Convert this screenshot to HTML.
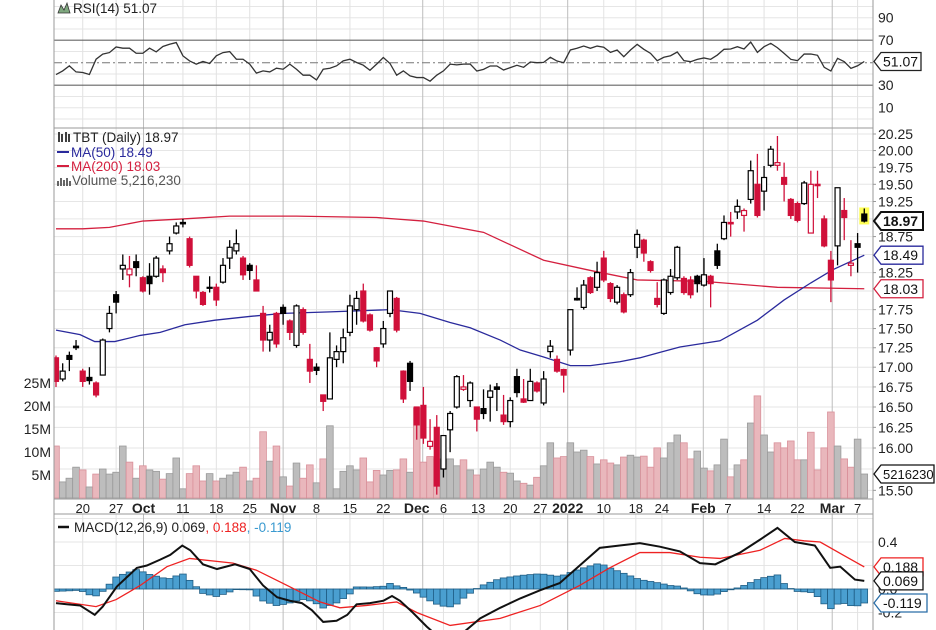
<!DOCTYPE html>
<html><head><meta charset="utf-8">
<style>
body{margin:0;background:#fff}
svg{display:block;font-family:"Liberation Sans",sans-serif}
</style></head><body>
<svg id="c" width="936" height="630" viewBox="0 0 936 630"></svg>
<script>
// ---- Price data (OHLC per trading day) ----
const opens=[17.12,16.85,17.15,17.27,16.95,16.87,16.8,16.9,17.5,17.95,
18.3,18.22,18.4,18.18,18.2,18.2,18.3,18.55,18.8,18.95,
18.72,18.2,17.98,18.05,18.05,18.12,18.45,18.55,18.45,18.35,
18.15,17.7,17.35,17.7,17.78,17.6,17.28,17.75,17.1,17.0,
16.65,16.6,17.1,17.2,17.45,17.75,18.0,17.68,17.25,17.3,
17.7,17.9,16.95,17.05,16.5,16.52,16.02,16.25,15.75,16.22,
16.5,16.72,16.58,16.5,16.48,16.62,16.75,16.4,16.32,16.88,
16.6,16.58,16.8,16.55,17.2,17.1,16.97,17.22,17.9,17.78,
18.18,18.05,18.45,18.1,17.85,17.95,17.95,18.6,18.7,18.4,
17.9,17.7,17.98,18.18,18.17,18.15,18.2,18.08,18.2,18.55,
18.72,18.95,19.1,19.05,19.28,19.5,19.4,19.78,19.78,19.6,
19.28,19.22,19.22,18.8,19.5,19.0,18.42,18.62,19.12,18.35,18.65,19.07];
const highs=[17.15,17.05,17.2,17.35,16.98,17.0,16.82,17.37,17.8,18.0,
18.5,18.48,18.5,18.2,18.38,18.48,18.35,18.75,18.95,19.0,
18.75,18.2,18.0,18.2,18.1,18.45,18.7,18.85,18.48,18.38,
18.35,17.8,17.55,17.72,17.82,17.62,17.82,17.78,17.3,17.05,
16.65,17.45,17.28,17.5,17.95,18.0,18.1,17.7,17.26,17.6,
18.0,17.92,16.96,17.08,16.5,16.75,16.35,16.4,16.15,16.45,
16.9,16.9,16.82,16.5,16.72,16.78,16.8,16.65,16.62,16.98,
16.85,16.98,16.82,16.95,17.35,17.15,16.98,17.75,18.05,18.15,
18.2,18.4,18.55,18.12,18.08,17.98,18.3,18.85,18.72,18.42,
18.12,18.17,18.3,18.62,18.2,18.2,18.22,18.45,18.22,18.65,
19.05,19.1,19.28,19.15,19.85,19.95,19.77,20.07,20.22,19.82,
19.3,19.25,19.55,19.7,19.7,19.05,18.55,19.45,19.3,18.7,18.8,19.15];
const lows=[16.75,16.82,16.95,17.22,16.75,16.78,16.62,16.9,17.45,17.7,
18.15,18.05,18.2,17.98,17.95,18.18,18.12,18.5,18.78,18.88,
18.32,17.9,17.8,17.98,17.8,18.1,18.3,18.5,18.15,18.15,
18.0,17.2,17.2,17.25,17.55,17.35,17.25,17.42,16.8,16.9,
16.45,16.6,17.0,17.05,17.4,17.55,17.58,17.46,17.0,17.25,
17.65,17.45,16.55,16.7,16.1,16.05,15.98,15.45,15.65,15.95,
16.48,16.7,16.5,16.2,16.35,16.32,16.45,16.28,16.25,16.62,
16.55,16.58,16.68,16.52,17.12,16.93,16.68,17.15,17.87,17.75,
17.96,18.0,18.12,17.85,17.82,17.7,17.92,18.45,18.4,18.25,
17.78,17.68,17.95,18.15,17.95,17.9,17.98,18.06,17.78,18.3,
18.7,18.75,19.0,18.82,19.22,19.02,19.12,19.75,19.7,19.25,
19.0,18.95,19.2,18.8,19.3,18.6,17.85,18.35,18.7,18.2,18.25,18.95];
const closes=[16.82,16.95,17.1,17.25,16.82,16.83,16.65,17.35,17.7,17.85,
18.35,18.3,18.32,18.0,18.1,18.45,18.25,18.65,18.9,18.93,
18.35,18.0,17.82,18.05,17.88,18.35,18.6,18.65,18.22,18.28,
18.0,17.35,17.45,17.3,17.7,17.45,17.8,17.45,16.95,16.96,
16.57,17.12,17.2,17.38,17.8,17.9,17.6,17.48,17.08,17.5,
18.0,17.48,16.6,16.82,16.28,16.12,16.08,15.55,16.15,16.42,
16.88,16.75,16.8,16.35,16.42,16.7,16.72,16.32,16.58,16.68,
16.56,16.82,16.7,16.85,17.27,16.95,16.9,17.75,17.88,18.08,
17.98,18.25,18.15,17.9,18.05,17.72,18.25,18.78,18.52,18.28,
17.82,18.15,18.2,18.6,17.98,17.95,18.1,18.22,18.1,18.35,
18.95,18.93,19.18,19.12,19.7,19.05,19.6,20.02,19.82,19.5,
19.05,18.98,19.52,19.5,19.48,18.62,18.15,19.45,19.02,18.38,18.6,18.97];
// ---- Volume (millions) ----
const volumes=[11.3,3.5,4.3,6.7,6.1,2.4,5.2,6.3,5.2,5.6,
11.3,7.8,4.3,7.0,6.1,5.8,4.1,5.3,8.7,2.0,
5.3,7.0,3.7,5.3,3.7,4.3,5.0,5.6,6.7,3.7,
4.3,14.4,8.0,11.3,4.6,2.6,7.6,4.3,7.2,3.3,
8.5,15.7,2.0,5.8,7.0,6.1,8.7,3.5,6.0,5.0,
6.0,6.1,8.5,5.6,19.6,7.8,9.0,8.5,8.5,8.5,
7.0,8.3,6.1,5.0,6.3,7.8,6.7,5.6,5.4,3.7,
3.2,2.8,4.5,7.0,12,8.7,9,12,10,10.4,
9,7.4,8.3,7.6,7.2,8.9,9.3,8.9,9.1,6.7,
10.9,8.7,12,13.7,12,8.5,10.2,6.5,5.9,7.2,
12.8,4.6,7.2,8.3,16.3,22.2,13.7,10,12,10.9,
12.4,8.3,8.3,14.3,6.1,10.9,18.7,11.3,8.5,6.7,12.8,5.216];
// ---- RSI(14) ----
const rsi=[39.5,42.7,47.2,41.8,41.3,39.5,53.1,57.6,59.0,64.0,
62.9,62.9,58.4,58.4,62.9,59.6,64.4,66.4,67.9,56.1,
51.6,48.7,51.1,49.3,56.1,59.0,59.9,53.1,53.1,48.7,
40.7,42.7,41.8,45.1,44.2,48.7,44.2,38.9,38.9,34.7,
44.2,45.1,47.2,51.6,53.1,50.2,47.8,43.3,48.7,54.6,
49.3,38.9,42.7,38.3,36.8,36.8,33.6,38.9,42.7,48.7,
48.1,48.7,48.8,42.6,44.1,47.1,47.1,43.5,45.6,47.7,
45.9,50.6,50,50.3,54.8,51.5,50,61.3,62.8,64.8,
62.8,64.8,63.7,59.2,61.3,55.3,61.3,66.3,61.9,58.3,
51.8,54.8,56.2,59.5,51.8,50.9,53,54.2,53,56.8,
61.9,62.2,64.2,62.2,68.4,59.2,64.2,67.2,63.3,58.3,
53,51.8,57.7,57.7,56.6,45.9,42.6,53.9,50.9,45,47.3,51.07];
// ---- Moving averages (day index, value) ----
const ma50Idx=[0,3.6,5.8,8.8,12.6,15.6,19.3,23.8,29,34,41,50,54.5,59,62,66.5,69.5,73,77,80,84.4,87.4,90.4,93.4,99.4,105,109,113,116.3,121];
const ma50Val=[17.48,17.42,17.33,17.33,17.41,17.45,17.55,17.61,17.66,17.70,17.72,17.75,17.70,17.58,17.51,17.35,17.22,17.13,17.02,17.02,17.07,17.12,17.19,17.26,17.34,17.61,17.88,18.11,18.29,18.49];
const ma200Idx=[0,4,8,13,19,26,36,48,55,64,73,80,87,97,108,121];
const ma200Val=[18.86,18.86,18.88,18.97,19.0,19.04,19.04,19.02,18.97,18.81,18.42,18.28,18.15,18.13,18.05,18.03];
// ---- MACD (day index, value) ----
const macdIdx=[0,1.6,3.6,5.8,7,9.1,12.1,13.6,15.6,17.1,18.9,20.1,22,24.1,26.8,29,31,33.1,35,36.8,38.3,40,42,43.6,45,47,49,50.3,51.5,53.4,55.5,57.5,59.3,61.2,63.5,66.5,69.5,72.5,75.4,78.4,81.4,84.4,87.4,90.4,93.4,96.4,98.7,102.4,105.4,108,110.6,113.6,115.9,117.4,119.6,121];
const macdVal=[-0.12,-0.13,-0.14,-0.22,-0.15,0.02,0.18,0.20,0.25,0.29,0.37,0.33,0.21,0.17,0.21,0.17,0.03,-0.07,-0.10,-0.12,-0.18,-0.28,-0.27,-0.22,-0.13,-0.12,-0.10,-0.06,-0.10,-0.20,-0.32,-0.42,-0.47,-0.36,-0.25,-0.16,-0.08,-0.01,0.05,0.2,0.35,0.37,0.39,0.36,0.32,0.22,0.21,0.31,0.42,0.52,0.40,0.37,0.18,0.19,0.08,0.069];
const sigIdx=[0,6,9,12.6,16.6,20,26.5,30,34.6,39.5,42.5,46.5,51,54,59,66.5,72.5,78.4,82.9,87.4,91.9,96.4,99.4,105.4,109.1,112,114.4,118.1,121];
const sigVal=[-0.1,-0.15,-0.09,0.03,0.19,0.26,0.22,0.16,0.03,-0.11,-0.16,-0.14,-0.11,-0.2,-0.31,-0.25,-0.14,0.03,0.18,0.31,0.31,0.27,0.26,0.33,0.43,0.41,0.40,0.28,0.188];
// ---- Axis tick labels ----
const dateLabels=["20","27","Oct","11","18","25","Nov","8","15","22","Dec","6","13","20","27","2022","10","18","24","Feb","7","14","22","Mar","7"];
const dateIdx=[4,9,13.1,19,24,29,34,39,44,49,54.9,58,63.2,68,72.5,76.6,82,86.8,90.7,96.9,100.6,106,111,116.2,120];
const dateMajor=[0,0,1,0,0,0,1,0,0,0,1,0,0,0,0,1,0,0,0,1,0,0,0,1,0];
const priceTicks=[20.25,20.0,19.75,19.5,19.25,19.0,18.75,18.5,18.25,18.0,17.75,17.5,17.25,17.0,16.75,16.5,16.25,16.0,15.75,15.5];
const priceTickLabels=["20.25","20.00","19.75","19.50","19.25","","18.75","","18.25","","17.75","17.50","17.25","17.00","16.75","16.50","16.25","16.00","","15.50"];
const volTicks=[5,10,15,20,25];
const rsiTicks=[90,70,30,10];
const macdTicks=[0.4,0.0,-0.2];
const macdTickLabels=["0.4","0.0","-0.2"];

const NS='http://www.w3.org/2000/svg';
const svg=document.getElementById('c');
function el(tag,attrs,parent){const e=document.createElementNS(NS,tag);for(const k in attrs)e.setAttribute(k,attrs[k]);(parent||svg).appendChild(e);return e;}
const L=54,R=873;
const xI=i=>56+i*6.68;
const LN=Math.log(20.25);
const yP=p=>134+(LN-Math.log(p))*1333;
const yV=v=>498-v*4.6;
const yR=v=>62.7-(v-50)*1.125;
const yM=v=>589-v*117.5;
function interp(idx,val,i){if(i<=idx[0])return val[0];for(let k=1;k<idx.length;k++){if(i<=idx[k]){const t=(i-idx[k-1])/(idx[k]-idx[k-1]);return val[k-1]+t*(val[k]-val[k-1]);}}return val[val.length-1];}

const defs=el('defs',{});
const cp1=el('clipPath',{id:'cMain'},defs);el('rect',{x:L,y:128,width:R-L,height:371},cp1);
const cp2=el('clipPath',{id:'cMacd'},defs);el('rect',{x:L,y:514,width:R-L,height:116},cp2);
const cp3=el('clipPath',{id:'cRsi'},defs);el('rect',{x:L,y:0,width:R-L,height:128},cp3);

// gridlines
const grid=el('g',{});


for(let v=0;v<=100;v+=10){if(v==30||v==70||v==50)continue;const y=yR(v);if(y<1||y>127)continue;el('line',{x1:L,x2:R,y1:y,y2:y,stroke:'#e6e6e6'},grid);}
priceTicks.forEach(p=>{const y=yP(p);el('line',{x1:L,x2:R,y1:y,y2:y,stroke:'#e6e6e6'},grid);});
[0.6,0.4,0.2,0,-0.2].forEach(v=>{const y=yM(v);el('line',{x1:L,x2:R,y1:y,y2:y,stroke:'#e6e6e6'},grid);});
dateIdx.forEach((d,k)=>{const x=xI(d);const c=dateMajor[k]?'#bdbdbd':'#e2e2e2';
 el('line',{x1:x,x2:x,y1:0,y2:499,stroke:c},grid);el('line',{x1:x,x2:x,y1:514,y2:630,stroke:c},grid);});

// RSI panel
const rsiG=el('g',{'clip-path':'url(#cRsi)'});


el('line',{x1:L,x2:R,y1:yR(70),y2:yR(70),stroke:'#666','stroke-width':1.2},rsiG);
el('line',{x1:L,x2:R,y1:yR(30),y2:yR(30),stroke:'#666','stroke-width':1.2},rsiG);
el('line',{x1:L,x2:R,y1:yR(50),y2:yR(50),stroke:'#777','stroke-dasharray':'8,3,2,3'},rsiG);
const rsiLine=el('polyline',{points:rsi.map((v,i)=>xI(i)+','+yR(v)).join(' '),fill:'none',stroke:'#333','stroke-width':1.3},rsiG);



// volume bars
const volG=el('g',{'clip-path':'url(#cMain)'});


volumes.forEach((v,i)=>{const prev=i?closes[i-1]:17.3;const down=closes[i]<prev;
 const b=el('rect',{x:xI(i)-3.34,y:yV(v),width:6.68,height:498-yV(v),fill:down?'#e9b7bc':'#bdbdbd',stroke:down?'#d9909a':'#9a9a9a','stroke-width':0.8},volG);
 
 
});

// MAs
const maG=el('g',{'clip-path':'url(#cMain)'});
const ma200=el('polyline',{points:ma200Idx.map((d,k)=>xI(d)+','+yP(ma200Val[k])).join(' '),fill:'none',stroke:'#d4203f','stroke-width':1.3},maG);


const ma50=el('polyline',{points:ma50Idx.map((d,k)=>xI(d)+','+yP(ma50Val[k])).join(' '),fill:'none',stroke:'#2a2a9c','stroke-width':1.3},maG);



// yellow highlight on last candle
const hl=el('rect',{x:xI(121)-5,y:yP(19.15)-1,width:10,height:yP(18.95)-yP(19.15)+3,fill:'#ffff55'});



// candles
const cG=el('g',{'clip-path':'url(#cMain)'});


closes.forEach((c,i)=>{const o=opens[i];const prev=i?closes[i-1]:17.3;const col=c<prev?'#d0103a':'#000';const filled=c<o;
 const x=xI(i);const g=el('g',{},cG);
 
 
 const top=yP(Math.max(o,c)),bot=yP(Math.min(o,c));
 el('line',{x1:x,x2:x,y1:yP(highs[i]),y2:top,stroke:col,'stroke-width':1.3},g);
 el('line',{x1:x,x2:x,y1:bot,y2:yP(lows[i]),stroke:col,'stroke-width':1.3},g);
 el('rect',{x:x-2.5,y:top,width:5,height:Math.max(bot-top,1),fill:filled?col:'#fff',stroke:col,'stroke-width':1.2},g);
});

// MACD
const mG=el('g',{'clip-path':'url(#cMacd)'});


for(let i=0;i<closes.length;i++){const h=interp(macdIdx,macdVal,i)-interp(sigIdx,sigVal,i);const y0=yM(0),y1=yM(h);
 const b=el('rect',{x:xI(i)-3.34,y:Math.min(y0,y1),width:6.68,height:Math.max(Math.abs(y1-y0),0.5),fill:'#4a9fd0',stroke:'#1f5d84','stroke-width':0.8},mG);
 
 
}
const sigL=el('polyline',{points:sigIdx.map((d,k)=>xI(d)+','+yM(sigVal[k])).join(' '),fill:'none',stroke:'#ee2222','stroke-width':1.3},mG);


const macdL=el('polyline',{points:macdIdx.map((d,k)=>xI(d)+','+yM(macdVal[k])).join(' '),fill:'none',stroke:'#111','stroke-width':2},mG);



// frames
const fr=el('g',{fill:'none',stroke:'#9a9a9a'});


el('line',{x1:L,x2:L,y1:0,y2:630},fr);
el('line',{x1:R,x2:R,y1:0,y2:630},fr);
el('line',{x1:L,x2:R,y1:128,y2:128},fr);
el('line',{x1:L,x2:R,y1:499,y2:499},fr);
el('line',{x1:L,x2:R,y1:514,y2:514},fr);

function txt(x,y,s,attrs){const t=el('text',Object.assign({x:x,y:y,'font-size':13,fill:'#222'},attrs||{}));t.textContent=s;return t;}

// x axis labels
dateLabels.forEach((s,k)=>{const dx=(s==='Dec')?-6:0;const t=txt(xI(dateIdx[k])+dx,513,s,{'text-anchor':'middle','font-weight':dateMajor[k]?'bold':'normal','font-size':dateMajor[k]?14:13});
 
 
});
// price ticks
priceTicks.forEach((p,k)=>{if(!priceTickLabels[k])return;const t=txt(878,yP(p)+5,priceTickLabels[k],{'font-size':14});
 
 
 el('line',{x1:R,x2:R+3,y1:yP(p),y2:yP(p),stroke:'#999'});
});
volTicks.forEach(v=>{const t=txt(51,yV(v)+5,v+'M',{'text-anchor':'end','font-size':14});
 
 
});
rsiTicks.forEach(v=>{const t=txt(878,yR(v)+5,String(v),{'font-size':14});
 
 
});
macdTicks.forEach((v,k)=>{const t=txt(878,yM(v)+5,macdTickLabels[k],{'font-size':14});
 
 
});

function box(y,s,stroke,bold,w,name,fs){const g=el('g',{});
 
 
 el('polygon',{points:`${R+1},${y} ${R+8},${y-9} ${R+8+w},${y-9} ${R+8+w},${y+9} ${R+8},${y+9}`,fill:'#fff',stroke:stroke,'stroke-width':bold?2:1.3},g);
 const t=el('text',{x:R+10,y:y+5,'font-size':fs||14,'font-weight':bold?'bold':'normal',fill:'#111'},g);t.textContent=s;return g;}
box(yR(51.07),'51.07','#222',false,40,'rsi-value-box');
box(yP(18.97),'18.97','#111',true,42,'price-value-box');
box(yP(18.49),'18.49','#2a2a9c',false,42,'ma50-value-box');
box(yP(18.03),'18.03','#d4203f',false,42,'ma200-value-box');
box(yV(5.216),'5216230','#111',false,53,'volume-value-box',13);
box(yM(0.188),'0.188','#ee2222',false,42,'macd-signal-value-box');
box(yM(0.069),'0.069','#111',false,42,'macd-value-box');
box(yM(-0.119),'-0.119','#2a6ea8',false,46,'macd-hist-value-box');

// legends
function legend(x,y,parts,name){const t=el('text',{x:x,y:y,'font-size':13.5});
 
 
 parts.forEach(p=>{const s=el('tspan',{fill:p[1]},t);s.textContent=p[0];});return t;}
el('path',{d:'M58,13 L61,5 L64,10 L67,3 L70,13 Z',fill:'#7fa87f',stroke:'#333','stroke-width':0.8});
legend(73,13,[['RSI(14) 51.07','#222']],'rsi-legend');
el('path',{d:'M59,132 v10 M62,134 v8 M66,132 v10 M69,134 v8',stroke:'#111','stroke-width':1.6});
legend(73,142,[['TBT (Daily) 18.97','#222']],'price-legend');
el('line',{x1:57,x2:69,y1:152,y2:152,stroke:'#2a2a9c','stroke-width':2});
legend(71,157,[['MA(50) 18.49','#2a2a9c']],'ma50-legend');
el('line',{x1:57,x2:69,y1:166,y2:166,stroke:'#d4203f','stroke-width':2});
legend(71,171,[['MA(200) 18.03','#d4203f']],'ma200-legend');
el('path',{d:'M58,186 v-5 M61,186 v-8 M64,186 v-6 M67,186 v-8 M70,186 v-5',stroke:'#555','stroke-width':1.8});
legend(72,185,[['Volume 5,216,230','#555']],'volume-legend');
el('line',{x1:58,x2:69,y1:527,y2:527,stroke:'#111','stroke-width':2.5});
legend(74,532,[['MACD(12,26,9) 0.069','#222'],[', 0.188','#ee2222'],[', -0.119','#3a9ad0']],'macd-legend');
</script>
</body></html>
